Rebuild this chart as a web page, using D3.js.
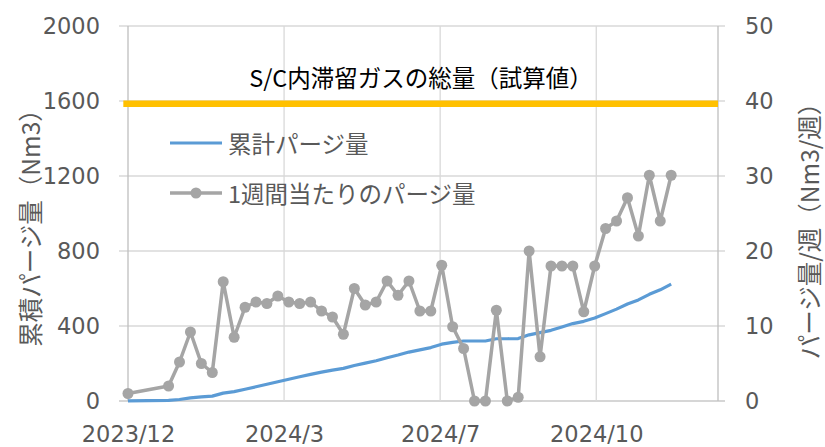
<!DOCTYPE html>
<html>
<head>
<meta charset="utf-8">
<script src="https://cdn.jsdelivr.net/npm/d3@7"></script>
<style>
  body { margin: 0; background: #fff; }
  svg { display: block; }
</style>
</head>
<body>
<svg></svg>
<script>
// weekly purge dates (first point is the start of the test, then weekly)
let weekDates = [
    '2023-12-20',
    '2024-01-15', '2024-01-22', '2024-01-29', '2024-02-05', '2024-02-12', '2024-02-19', '2024-02-26',
    '2024-03-04', '2024-03-11', '2024-03-18', '2024-03-25', '2024-04-01', '2024-04-08', '2024-04-15',
    '2024-04-22', '2024-04-29', '2024-05-06', '2024-05-13', '2024-05-20', '2024-05-27', '2024-06-03',
    '2024-06-10', '2024-06-17', '2024-06-24', '2024-07-01', '2024-07-08', '2024-07-15', '2024-07-22',
    '2024-07-29', '2024-08-05', '2024-08-12', '2024-08-19', '2024-08-26', '2024-09-02', '2024-09-09',
    '2024-09-16', '2024-09-23', '2024-09-30', '2024-10-07', '2024-10-14', '2024-10-21', '2024-10-28',
    '2024-11-04', '2024-11-11', '2024-11-18', '2024-11-25', '2024-12-02'
];
// 1週間当たりのパージ量 (Nm3/週), right axis
let weeklyPurge = [
    1.0,
    2.0, 5.2, 9.2, 5.0, 3.8, 15.9, 8.5,
    12.5, 13.2, 13.0, 14.0, 13.2, 13.0, 13.2,
    12.0, 11.2, 8.9, 15.0, 12.8, 13.2, 16.0,
    14.1, 16.0, 12.0, 12.0, 18.1, 9.9, 7.0,
    0, 0, 12.1, 0, 0.5, 20.0, 5.9,
    18.0, 18.0, 18.0, 11.9, 18.0, 23.0, 24.0,
    27.1, 22.0, 30.1, 24.0, 30.1
];
// 累計パージ量 (Nm3), left axis
let cumulativePurge = [
    1,
    3, 8, 17, 22, 26, 42, 50,
    63, 76, 89, 103, 116, 129, 142,
    154, 165, 174, 189, 202, 215, 231,
    245, 261, 273, 285, 303, 313, 320,
    320, 320, 332, 332, 333, 353, 365,
    377, 395, 413, 425, 443, 466, 490,
    517, 539, 569, 593, 623
];
// S/C内滞留ガスの総量（試算値）
let totalGasDates = ['2023-12-17', '2025-01-01'];
let totalGas = [1585, 1585];

let seriesNames = ['累計パージ量', '1週間当たりのパージ量'];
let totalGasLabel = 'S/C内滞留ガスの総量（試算値）';
let leftTitle = '累積パージ量（Nm3）';
let rightTitle = 'パージ量/週（Nm3/週）';

let leftTicks = [0, 400, 800, 1200, 1600, 2000];
let rightTicks = [0, 10, 20, 30, 40, 50];
let xTickDates = ['2023-12-20', '2024-03-29', '2024-07-07', '2024-10-15'];
let xTickLabels = ['2023/12', '2024/3', '2024/7', '2024/10'];

let w = 825;
let h = 447;
let plotLeft = 128;
let plotRight = 718;
let plotTop = 26;
let plotBottom = 401;

let parseDate = d3.timeParse('%Y-%m-%d');
let numFont = "'DejaVu Sans', sans-serif";
let jpFont = "'Noto Sans CJK JP', sans-serif";
let textGray = '#595959';

let svg = d3.select('svg').attr('width', w).attr('height', h);

let xScale = d3.scaleTime()
    .domain([parseDate('2023-12-20'), parseDate('2025-01-01')])
    .range([plotLeft, plotRight]);
let yLeft = d3.scaleLinear().domain([0, 2000]).range([plotBottom, plotTop]);
let yRight = d3.scaleLinear().domain([0, 50]).range([plotBottom, plotTop]);

// gridlines
svg.append('g')
    .selectAll('line')
    .data(leftTicks)
    .enter()
    .append('line')
    .attr('x1', plotLeft - 9)
    .attr('x2', plotRight + 7)
    .attr('y1', d => yLeft(d))
    .attr('y2', d => yLeft(d))
    .attr('stroke', d => d === 0 ? '#c9c9c9' : '#d9d9d9')
    .attr('stroke-width', 1.3);

svg.append('g')
    .selectAll('line')
    .data(xTickDates.slice(1))
    .enter()
    .append('line')
    .attr('x1', d => xScale(parseDate(d)))
    .attr('x2', d => xScale(parseDate(d)))
    .attr('y1', plotTop)
    .attr('y2', plotBottom)
    .attr('stroke', '#d9d9d9')
    .attr('stroke-width', 1.3);

// axis lines
[plotLeft, plotRight].forEach(x => {
    svg.append('line')
        .attr('x1', x).attr('x2', x)
        .attr('y1', plotTop).attr('y2', plotBottom)
        .attr('stroke', '#bfbfbf')
        .attr('stroke-width', 1.3);
});

// axes (labels only)
let leftAxis = svg.append('g')
    .attr('transform', 'translate(' + plotLeft + ', 0)')
    .call(d3.axisLeft(yLeft).tickValues(leftTicks).tickFormat(d3.format('d')).tickSize(0).tickPadding(28));
let rightAxis = svg.append('g')
    .attr('transform', 'translate(' + plotRight + ', 0)')
    .call(d3.axisRight(yRight).tickValues(rightTicks).tickFormat(d3.format('d')).tickSize(0).tickPadding(27));
let xAxis = svg.append('g')
    .attr('transform', 'translate(0, ' + plotBottom + ')')
    .call(d3.axisBottom(xScale)
        .tickValues(xTickDates.map(parseDate))
        .tickFormat((d, i) => xTickLabels[i])
        .tickSize(0)
        .tickPadding(25));

[leftAxis, rightAxis, xAxis].forEach(g => {
    g.select('.domain').remove();
    g.selectAll('text')
        .attr('fill', textGray)
        .style('font-family', numFont)
        .style('font-size', '22.5px');
});

// cumulative line
let cumLine = d3.line()
    .x((d, i) => xScale(parseDate(weekDates[i])))
    .y(d => yLeft(d));
svg.append('path')
    .datum(cumulativePurge)
    .attr('d', cumLine)
    .attr('fill', 'none')
    .attr('stroke', '#5b9bd5')
    .attr('stroke-width', 3.2)
    .attr('stroke-linejoin', 'round');

// weekly line with markers
let weekLine = d3.line()
    .x((d, i) => xScale(parseDate(weekDates[i])))
    .y(d => yRight(d));
svg.append('path')
    .datum(weeklyPurge)
    .attr('d', weekLine)
    .attr('fill', 'none')
    .attr('stroke', '#a5a5a5')
    .attr('stroke-width', 3.5)
    .attr('stroke-linejoin', 'round');
svg.append('g')
    .selectAll('circle')
    .data(weeklyPurge)
    .enter()
    .append('circle')
    .attr('cx', (d, i) => xScale(parseDate(weekDates[i])))
    .attr('cy', d => yRight(d))
    .attr('r', 5.5)
    .attr('fill', '#a5a5a5');

// total gas line
svg.append('path')
    .datum(totalGas)
    .attr('d', d3.line()
        .x((d, i) => xScale(parseDate(totalGasDates[i])))
        .y(d => yLeft(d)))
    .attr('stroke', '#ffc000')
    .attr('stroke-width', 6.5);

svg.append('text')
    .attr('x', 421)
    .attr('y', 87)
    .attr('text-anchor', 'middle')
    .attr('fill', '#000')
    .style('font-family', jpFont)
    .style('font-size', '23.5px')
    .text(totalGasLabel);

// legend
let legendY = [143, 193];
seriesNames.forEach((name, i) => {
    let g = svg.append('g').attr('transform', 'translate(170, ' + legendY[i] + ')');
    g.append('line')
        .attr('x1', 0).attr('x2', 52)
        .attr('stroke', i === 0 ? '#5b9bd5' : '#a5a5a5')
        .attr('stroke-width', i === 0 ? 3.2 : 3.5);
    if (i === 1) {
        g.append('circle').attr('cx', 26).attr('r', 5.5).attr('fill', '#a5a5a5');
    }
    g.append('text')
        .attr('x', 58)
        .attr('y', 4)
        .attr('dominant-baseline', 'middle')
        .attr('fill', textGray)
        .style('font-family', jpFont)
        .style('font-size', '23.5px')
        .text(name);
});

// axis titles
svg.append('text')
    .attr('transform', 'translate(29, 222) rotate(-90)')
    .attr('text-anchor', 'middle')
    .attr('dominant-baseline', 'central')
    .attr('fill', textGray)
    .style('font-family', jpFont)
    .style('font-size', '24.5px')
    .text(leftTitle);

svg.append('text')
    .attr('transform', 'translate(808, 225) rotate(-90)')
    .attr('text-anchor', 'middle')
    .attr('dominant-baseline', 'central')
    .attr('fill', textGray)
    .style('font-family', jpFont)
    .style('font-size', '24.5px')
    .text(rightTitle);
</script>
</body>
</html>
